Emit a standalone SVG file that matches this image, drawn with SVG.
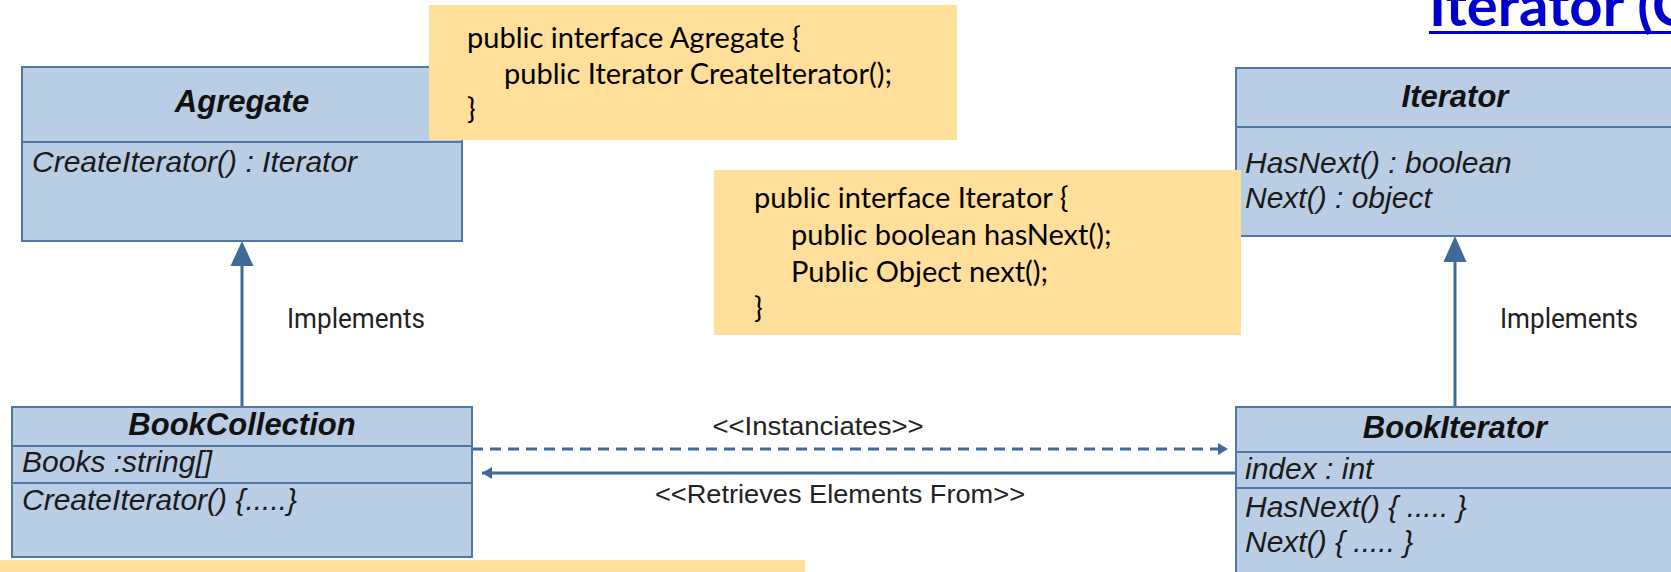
<svg xmlns="http://www.w3.org/2000/svg" width="1671" height="572" viewBox="0 0 1671 572">
  <defs>
    <style>
      .cls { fill: #b9cde5; stroke: #5177a6; stroke-width: 2; }
      .div { stroke: #5177a6; stroke-width: 2; }
      .title { font-family: "Liberation Sans", Arial, sans-serif; font-weight: bold; font-style: italic; font-size: 31px; fill: #111; text-anchor: middle; }
      .member { font-family: "Liberation Sans", Arial, sans-serif; font-style: italic; font-size: 30px; fill: #1a1a1a; }
      .note { fill: #ffdf99; }
      .code { font-family: "Lato", "Open Sans", sans-serif; font-size: 29px; fill: #000; }
      .label { font-family: "Roboto", "Liberation Sans", sans-serif; font-size: 27px; fill: #222; }
      .stereo { font-family: "Liberation Sans", Arial, sans-serif; font-size: 25px; fill: #222; text-anchor: middle; }
      .link { stroke: #3f6a9a; stroke-width: 3; fill: none; }
      .head { fill: #3f6a9a; }
    </style>
    <marker id="arrSmall" markerWidth="12" markerHeight="12" refX="10" refY="6" orient="auto" markerUnits="userSpaceOnUse">
      <path d="M0,0 L10,6 L0,12 z" class="head"/>
    </marker>
  </defs>

  <!-- page heading, runs off the right edge -->
  <g id="heading">
    <text x="1429" y="26" font-family="Lato, 'Open Sans', sans-serif" font-weight="bold" font-size="58" fill="#0000cc">Iterator (C</text>
    <rect x="1429" y="31" width="250" height="3" fill="#0000cc"/>
  </g>

  <!-- connectors -->
  <g id="connectors">
    <!-- BookCollection implements Agregate -->
    <line class="link" x1="242" y1="407" x2="242" y2="262"/>
    <path class="head" d="M242,241 L253.5,266 L230.5,266 z"/>
    <text class="label" x="287" y="328" textLength="138" lengthAdjust="spacingAndGlyphs">Implements</text>

    <!-- BookIterator implements Iterator -->
    <line class="link" x1="1455" y1="407" x2="1455" y2="258"/>
    <path class="head" d="M1455,236 L1466.5,262 L1443.5,262 z"/>
    <text class="label" x="1500" y="328" textLength="138" lengthAdjust="spacingAndGlyphs">Implements</text>

    <!-- instanciates (dashed) -->
    <line class="link" x1="472" y1="449" x2="1228" y2="449" stroke-dasharray="11 7" stroke-width="2.5" marker-end="url(#arrSmall)"/>
    <text class="stereo" x="818" y="435" textLength="211" lengthAdjust="spacingAndGlyphs">&lt;&lt;Instanciates&gt;&gt;</text>

    <!-- retrieves elements from -->
    <line class="link" x1="1236" y1="473" x2="482" y2="473" stroke-width="2.5" marker-end="url(#arrSmall)"/>
    <text class="stereo" x="840" y="503" textLength="370" lengthAdjust="spacingAndGlyphs">&lt;&lt;Retrieves Elements From&gt;&gt;</text>
  </g>

  <!-- Agregate interface -->
  <g id="agregate">
    <rect class="cls" x="22" y="67" width="440" height="174"/>
    <line class="div" x1="22" y1="142" x2="462" y2="142"/>
    <text class="title" x="242" y="112">Agregate</text>
    <text class="member" x="32" y="172">CreateIterator() : Iterator</text>
  </g>

  <!-- Iterator interface -->
  <g id="iterator">
    <rect class="cls" x="1236" y="68" width="445" height="168"/>
    <line class="div" x1="1236" y1="127" x2="1681" y2="127"/>
    <text class="title" x="1455" y="107">Iterator</text>
    <text class="member" x="1245" y="173">HasNext() : boolean</text>
    <text class="member" x="1245" y="208">Next() : object</text>
  </g>

  <!-- BookCollection class -->
  <g id="bookcollection">
    <rect class="cls" x="12" y="407" width="460" height="150"/>
    <line class="div" x1="12" y1="446" x2="472" y2="446"/>
    <line class="div" x1="12" y1="483" x2="472" y2="483"/>
    <text class="title" x="242" y="435">BookCollection</text>
    <text class="member" x="22" y="472">Books :string[]</text>
    <text class="member" x="22" y="510">CreateIterator() {.....}</text>
  </g>

  <!-- BookIterator class -->
  <g id="bookiterator">
    <rect class="cls" x="1236" y="407" width="445" height="175"/>
    <line class="div" x1="1236" y1="452" x2="1681" y2="452"/>
    <line class="div" x1="1236" y1="488" x2="1681" y2="488"/>
    <text class="title" x="1455" y="438">BookIterator</text>
    <text class="member" x="1245" y="479">index : int</text>
    <text class="member" x="1245" y="517">HasNext() { ..... }</text>
    <text class="member" x="1245" y="552">Next() { ..... }</text>
  </g>

  <!-- code note: Agregate -->
  <g id="note-agregate">
    <rect class="note" x="429" y="5" width="528" height="135"/>
    <text class="code" x="467" y="48">public interface Agregate {</text>
    <text class="code" x="504" y="84">public Iterator CreateIterator();</text>
    <text class="code" x="467" y="119">}</text>
  </g>

  <!-- code note: Iterator -->
  <g id="note-iterator">
    <rect class="note" x="714" y="170" width="527" height="165"/>
    <text class="code" x="754" y="208">public interface Iterator {</text>
    <text class="code" x="791" y="245">public boolean hasNext();</text>
    <text class="code" x="791" y="282">Public Object next();</text>
    <text class="code" x="754" y="318">}</text>
  </g>

  <!-- note strip along the bottom edge -->
  <g id="note-bottom">
    <rect class="note" x="0" y="560" width="805" height="12"/>
  </g>
</svg>
